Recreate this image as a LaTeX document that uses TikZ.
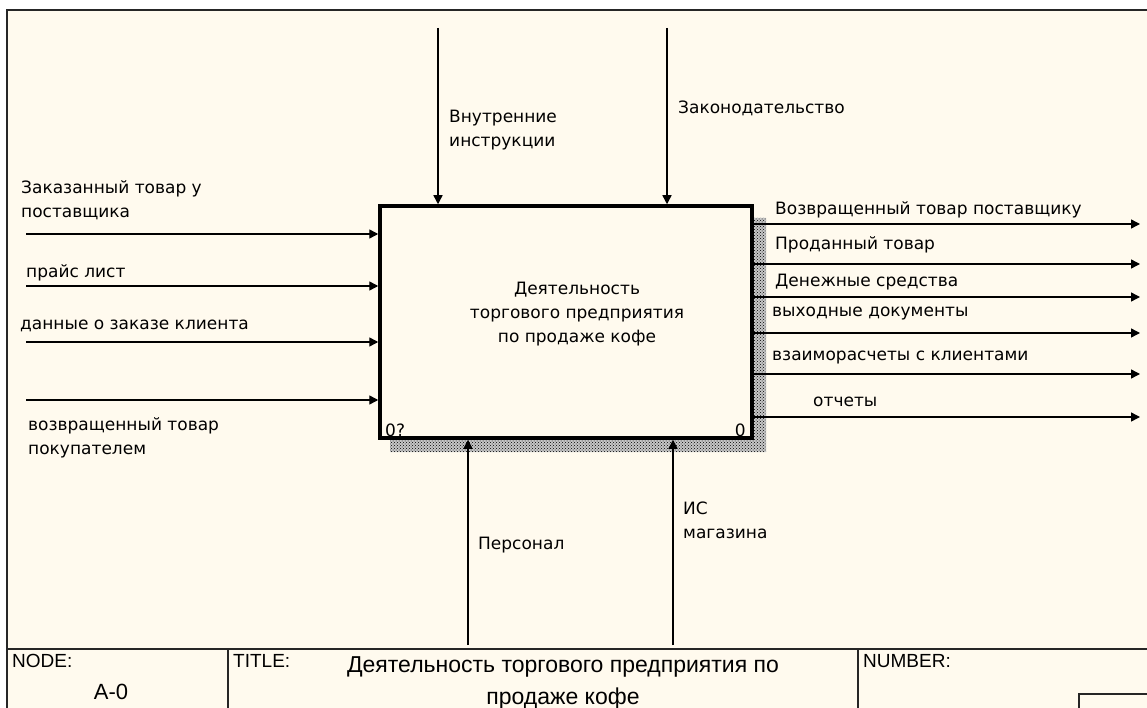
\documentclass[tikz,border=0pt]{standalone}
\usepackage{fontspec}
\setmainfont{DejaVu Sans}
\newfontfamily\blockfont{Liberation Sans}
\usepackage{xcolor}
\usetikzlibrary{arrows.meta,patterns}
\definecolor{paper}{RGB}{255,250,238}
\tikzset{arr/.style={-{Triangle[length=9pt,width=9pt]},line width=1.4pt},
lbl/.style={inner sep=0pt,anchor=west,align=left},
frame/.style={line width=2pt,draw=black!85}}

\begin{document}
\begin{tikzpicture}[x=1pt,y=-1pt,font=\fontsize{17}{24}\selectfont]
\useasboundingbox (0,0) rectangle (1147,708);
\fill[white](0,0) rectangle (1147,708);
\fill[paper](7,10) rectangle (1147,708);
\draw[frame](7,708)--(7,10)--(1147,10);
\draw[frame](7,649)--(1147,649)
(228,649)--(228,708)
(858,649)--(858,708)
(1079,708)--(1079,694)--(1147,694);
% shadow of the activity box
\fill[black!22](753,218) rectangle (766,452)
(390,440) rectangle (753,452);
\fill[pattern=crosshatch dots,pattern color=black](753,218) rectangle (766,452)
(390,440) rectangle (753,452);
\node[draw,line width=3.5pt,minimum width=372pt,minimum height=232pt,inner sep=0pt](box) at (566,322){};
\node[align=center,inner sep=0pt](boxtext) at (577,314){Деятельность\\торгового предприятия\\по продаже кофе};
\node[inner sep=0pt,anchor=west](num1) at (385,430){0?};
\node[inner sep=0pt,anchor=east](num2) at (746,430){0};
% inputs
\foreach \y [count=\i] in {234,286,342,400}{
\coordinate (in\i) at (26,\y);
\draw[arr](in\i)--(in\i-|box.west);}
\node[lbl](inl1) at (21,200){Заказанный товар у\\поставщика};
\node[lbl](inl2) at (26,273){прайс лист};
\node[lbl](inl3) at (20,326){данные о заказе клиента};
\node[lbl](inl4) at (28,438){возвращенный товар\\покупателем};
% outputs
\foreach \y [count=\i] in {224,264,297,333,374,417}{
\coordinate (out\i) at (1140,\y);
\draw[arr](out\i-|box.east)--(out\i);}
\node[lbl](outl1) at (775,210){Возвращенный товар поставщику};
\node[lbl](outl2) at (775,245){Проданный товар};
\node[lbl](outl3) at (775,282){Денежные средства};
\node[lbl](outl4) at (772,314){выходные документы};
\node[lbl](outl5) at (772,358){взаиморасчеты с клиентами};
\node[lbl](outl6) at (813,402){отчеты};
% controls
\coordinate (c1) at (438,28);
\coordinate (c2) at (667,28);
\draw[arr](c1)--(c1|-box.north);
\draw[arr](c2)--(c2|-box.north);
\node[lbl](cl1) at (449,130){Внутренние\\инструкции};
\node[lbl](cl2) at (678,108){Законодательство};
% mechanisms
\coordinate (m1) at (468,645);
\coordinate (m2) at (673,645);
\draw[arr](m1)--(m1|-box.south);
\draw[arr](m2)--(m2|-box.south);
\node[lbl](ml1) at (478,545){Персонал};
\node[lbl](ml2) at (683,520){ИС\\магазина};
% title block
\begin{scope}[font=\blockfont\fontsize{19}{24}\selectfont]
\node[lbl](nodelbl) at (12,661){NODE:};
\node[inner sep=0pt,font=\blockfont\fontsize{22}{24}\selectfont](nodeval) at (111,692){A-0};
\node[lbl](titlelbl) at (233,661){TITLE:};
\node[align=center,inner sep=0pt,font=\blockfont\fontsize{23}{32}\selectfont](titleval) at (563,683){Деятельность торгового предприятия по\\продаже кофе};
\node[lbl](numlbl) at (863,661){NUMBER:};
\end{scope}
\end{tikzpicture}
\end{document}
